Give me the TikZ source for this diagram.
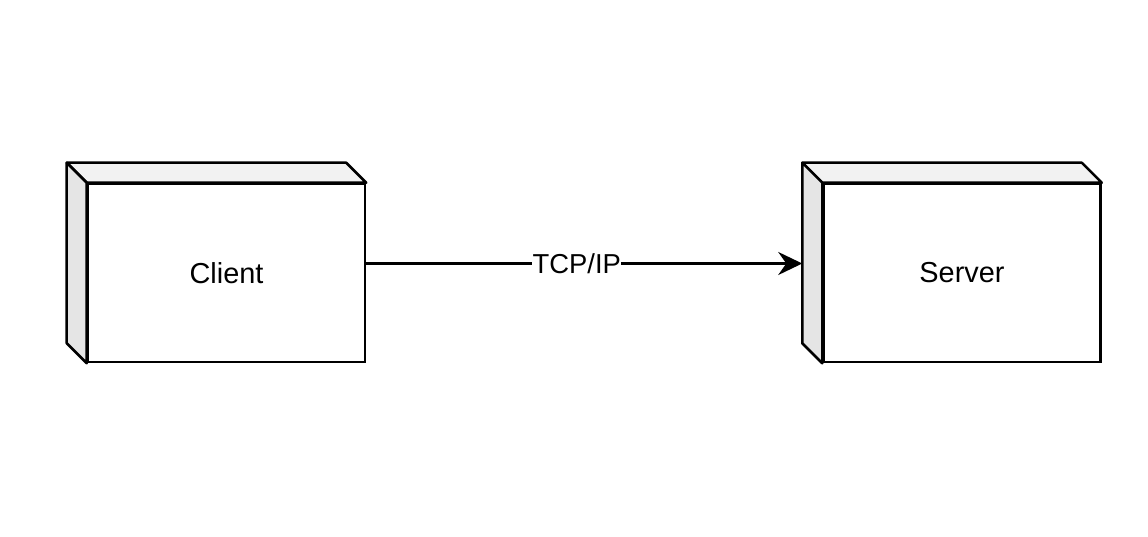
\documentclass[tikz,border=0pt]{standalone}
\usepackage{fontspec}
\setmainfont{Liberation Sans}
\usetikzlibrary{arrows.meta,positioning,backgrounds}

\tikzset{
  device/.style={draw, line width=2.5bp, fill=white, minimum width=277bp,
    minimum height=178bp, inner sep=0pt, font=\fontsize{29}{34}\selectfont},
  topface/.style={draw, line width=2.5bp, line join=round, fill=black!5},
  sideface/.style={draw, line width=2.5bp, line join=round, fill=black!10},
  link/.style={line width=2.5bp, -{Stealth[length=24bp,width=23bp,inset=8bp]}},
}

\newcommand{\boxdepth}[1]{%
  \begin{scope}[on background layer]
  \draw[topface] (#1.north west) -- ++(-20,-20) -- ([xshift=-20bp,yshift=20bp]#1.north east) -- (#1.north east) -- cycle;
  \draw[sideface] (#1.north west) -- ++(-20,-20) -- ([xshift=-20bp,yshift=20bp]#1.south west) -- (#1.south west) -- cycle;
  \end{scope}
}

\begin{document}
\begin{tikzpicture}[x=1bp, y=-1bp]
\useasboundingbox (0,0) rectangle (1148,537);

\node[device] (client) at (226.5,273) {Client};
\node[device, right=456bp of client] (server) {Server};
\boxdepth{client}
\boxdepth{server}

\draw[link] ([yshift=9.5bp]client.east) -- node[pos=0.483, fill=white, inner sep=0.5bp, font=\fontsize{27.5}{32}\selectfont] {TCP/IP} ([xshift=-20bp,yshift=9.5bp]server.west);
\end{tikzpicture}
\end{document}
